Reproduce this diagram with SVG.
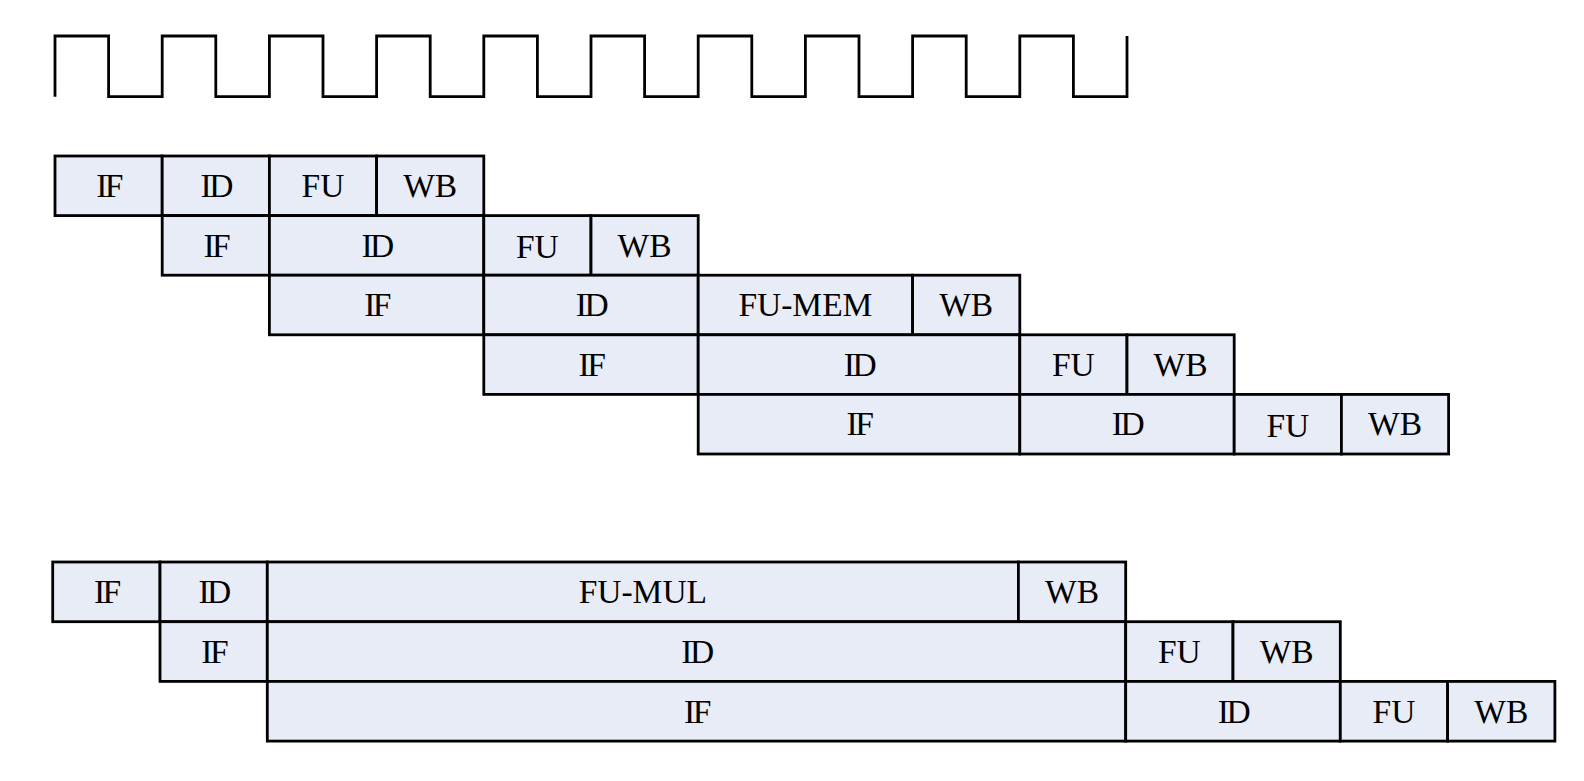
<svg xmlns="http://www.w3.org/2000/svg" width="1584" height="781" viewBox="0 0 1584 781">
<style>
  .cell rect { fill: #E8ECF7; stroke: #000; stroke-width: 2.8; }
  .cell text { font-family: "Liberation Serif", "Times New Roman", serif; font-size: 33.5px; fill: #000; text-anchor: middle; }
  .tight { letter-spacing: -2.5px; }
  .clock { fill: none; stroke: #000; stroke-width: 2.8; stroke-linejoin: miter; }
</style>
<rect x="0" y="0" width="1584" height="781" fill="#fff"/>
<g id="clock">
  <path class="clock" d="M55,96.7 V36 H108.6 V96.7 H162.2 V36 H215.8 V96.7 H269.4 V36 H323 V96.7 H376.6 V36 H430.2 V96.7 H483.8 V36 H537.4 V96.7 H591 V36 H644.6 V96.7 H698.2 V36 H751.8 V96.7 H805.4 V36 H859 V96.7 H912.6 V36 H966.2 V96.7 H1019.8 V36 H1073.4 V96.7 H1127 V36"/>
</g>
<g id="connectors"></g>
<g id="pipeline-1">
  <g id="r1-if" class="cell"><rect x="55" y="156" width="107.2" height="59.6"/><text x="108.6" y="197" class="tight">IF</text></g>
  <g id="r1-id" class="cell"><rect x="162.2" y="156" width="107.2" height="59.6"/><text x="215.8" y="197" class="tight">ID</text></g>
  <g id="r1-fu" class="cell"><rect x="269.4" y="156" width="107.2" height="59.6"/><text x="323" y="197">FU</text></g>
  <g id="r1-wb" class="cell"><rect x="376.6" y="156" width="107.2" height="59.6"/><text x="430.2" y="197">WB</text></g>

  <g id="r2-if" class="cell"><rect x="162.2" y="215.6" width="107.2" height="59.6"/><text x="215.8" y="256.6" class="tight">IF</text></g>
  <g id="r2-id" class="cell"><rect x="269.4" y="215.6" width="214.4" height="59.6"/><text x="376.6" y="256.6" class="tight">ID</text></g>
  <g id="r2-fu" class="cell"><rect x="483.8" y="215.6" width="107.2" height="59.6"/><text x="537.4" y="258.2">FU</text></g>
  <g id="r2-wb" class="cell"><rect x="591" y="215.6" width="107.2" height="59.6"/><text x="644.6" y="256.6">WB</text></g>

  <g id="r3-if" class="cell"><rect x="269.4" y="275.2" width="214.4" height="59.6"/><text x="376.6" y="316.2" class="tight">IF</text></g>
  <g id="r3-id" class="cell"><rect x="483.8" y="275.2" width="214.4" height="59.6"/><text x="591" y="316.2" class="tight">ID</text></g>
  <g id="r3-fumem" class="cell"><rect x="698.2" y="275.2" width="214.4" height="59.6"/><text x="805.4" y="316.2">FU-MEM</text></g>
  <g id="r3-wb" class="cell"><rect x="912.6" y="275.2" width="107.2" height="59.6"/><text x="966.2" y="316.2">WB</text></g>

  <g id="r4-if" class="cell"><rect x="483.8" y="334.8" width="214.4" height="59.6"/><text x="591" y="375.8" class="tight">IF</text></g>
  <g id="r4-id" class="cell"><rect x="698.2" y="334.8" width="321.6" height="59.6"/><text x="859" y="375.8" class="tight">ID</text></g>
  <g id="r4-fu" class="cell"><rect x="1019.8" y="334.8" width="107.2" height="59.6"/><text x="1073.4" y="375.8">FU</text></g>
  <g id="r4-wb" class="cell"><rect x="1127" y="334.8" width="107.2" height="59.6"/><text x="1180.6" y="375.8">WB</text></g>

  <g id="r5-if" class="cell"><rect x="698.2" y="394.4" width="321.6" height="59.6"/><text x="859" y="435.4" class="tight">IF</text></g>
  <g id="r5-id" class="cell"><rect x="1019.8" y="394.4" width="214.4" height="59.6"/><text x="1127" y="435.4" class="tight">ID</text></g>
  <g id="r5-fu" class="cell"><rect x="1234.2" y="394.4" width="107.2" height="59.6"/><text x="1287.8" y="437">FU</text></g>
  <g id="r5-wb" class="cell"><rect x="1341.4" y="394.4" width="107.2" height="59.6"/><text x="1395" y="435.4">WB</text></g>
</g>
<g id="pipeline-2">
  <g id="m1-if" class="cell"><rect x="52.7" y="562" width="107.3" height="59.7"/><text x="106.35" y="603.1" class="tight">IF</text></g>
  <g id="m1-id" class="cell"><rect x="160" y="562" width="107.3" height="59.7"/><text x="213.65" y="603.1" class="tight">ID</text></g>
  <g id="m1-fumul" class="cell"><rect x="267.3" y="562" width="751.1" height="59.7"/><text x="642.85" y="603.1">FU-MUL</text></g>
  <g id="m1-wb" class="cell"><rect x="1018.4" y="562" width="107.3" height="59.7"/><text x="1072.05" y="603.1">WB</text></g>

  <g id="m2-if" class="cell"><rect x="160" y="621.7" width="107.3" height="59.7"/><text x="213.65" y="662.8" class="tight">IF</text></g>
  <g id="m2-id" class="cell"><rect x="267.3" y="621.7" width="858.4" height="59.7"/><text x="696.5" y="662.8" class="tight">ID</text></g>
  <g id="m2-fu" class="cell"><rect x="1125.7" y="621.7" width="107.3" height="59.7"/><text x="1179.35" y="662.8">FU</text></g>
  <g id="m2-wb" class="cell"><rect x="1233" y="621.7" width="107.3" height="59.7"/><text x="1286.65" y="662.8">WB</text></g>

  <g id="m3-if" class="cell"><rect x="267.3" y="681.4" width="858.4" height="59.7"/><text x="696.5" y="722.5" class="tight">IF</text></g>
  <g id="m3-id" class="cell"><rect x="1125.7" y="681.4" width="214.6" height="59.7"/><text x="1233" y="722.5" class="tight">ID</text></g>
  <g id="m3-fu" class="cell"><rect x="1340.3" y="681.4" width="107.3" height="59.7"/><text x="1393.95" y="722.5">FU</text></g>
  <g id="m3-wb" class="cell"><rect x="1447.6" y="681.4" width="107.3" height="59.7"/><text x="1501.25" y="722.5">WB</text></g>
</g>
</svg>
